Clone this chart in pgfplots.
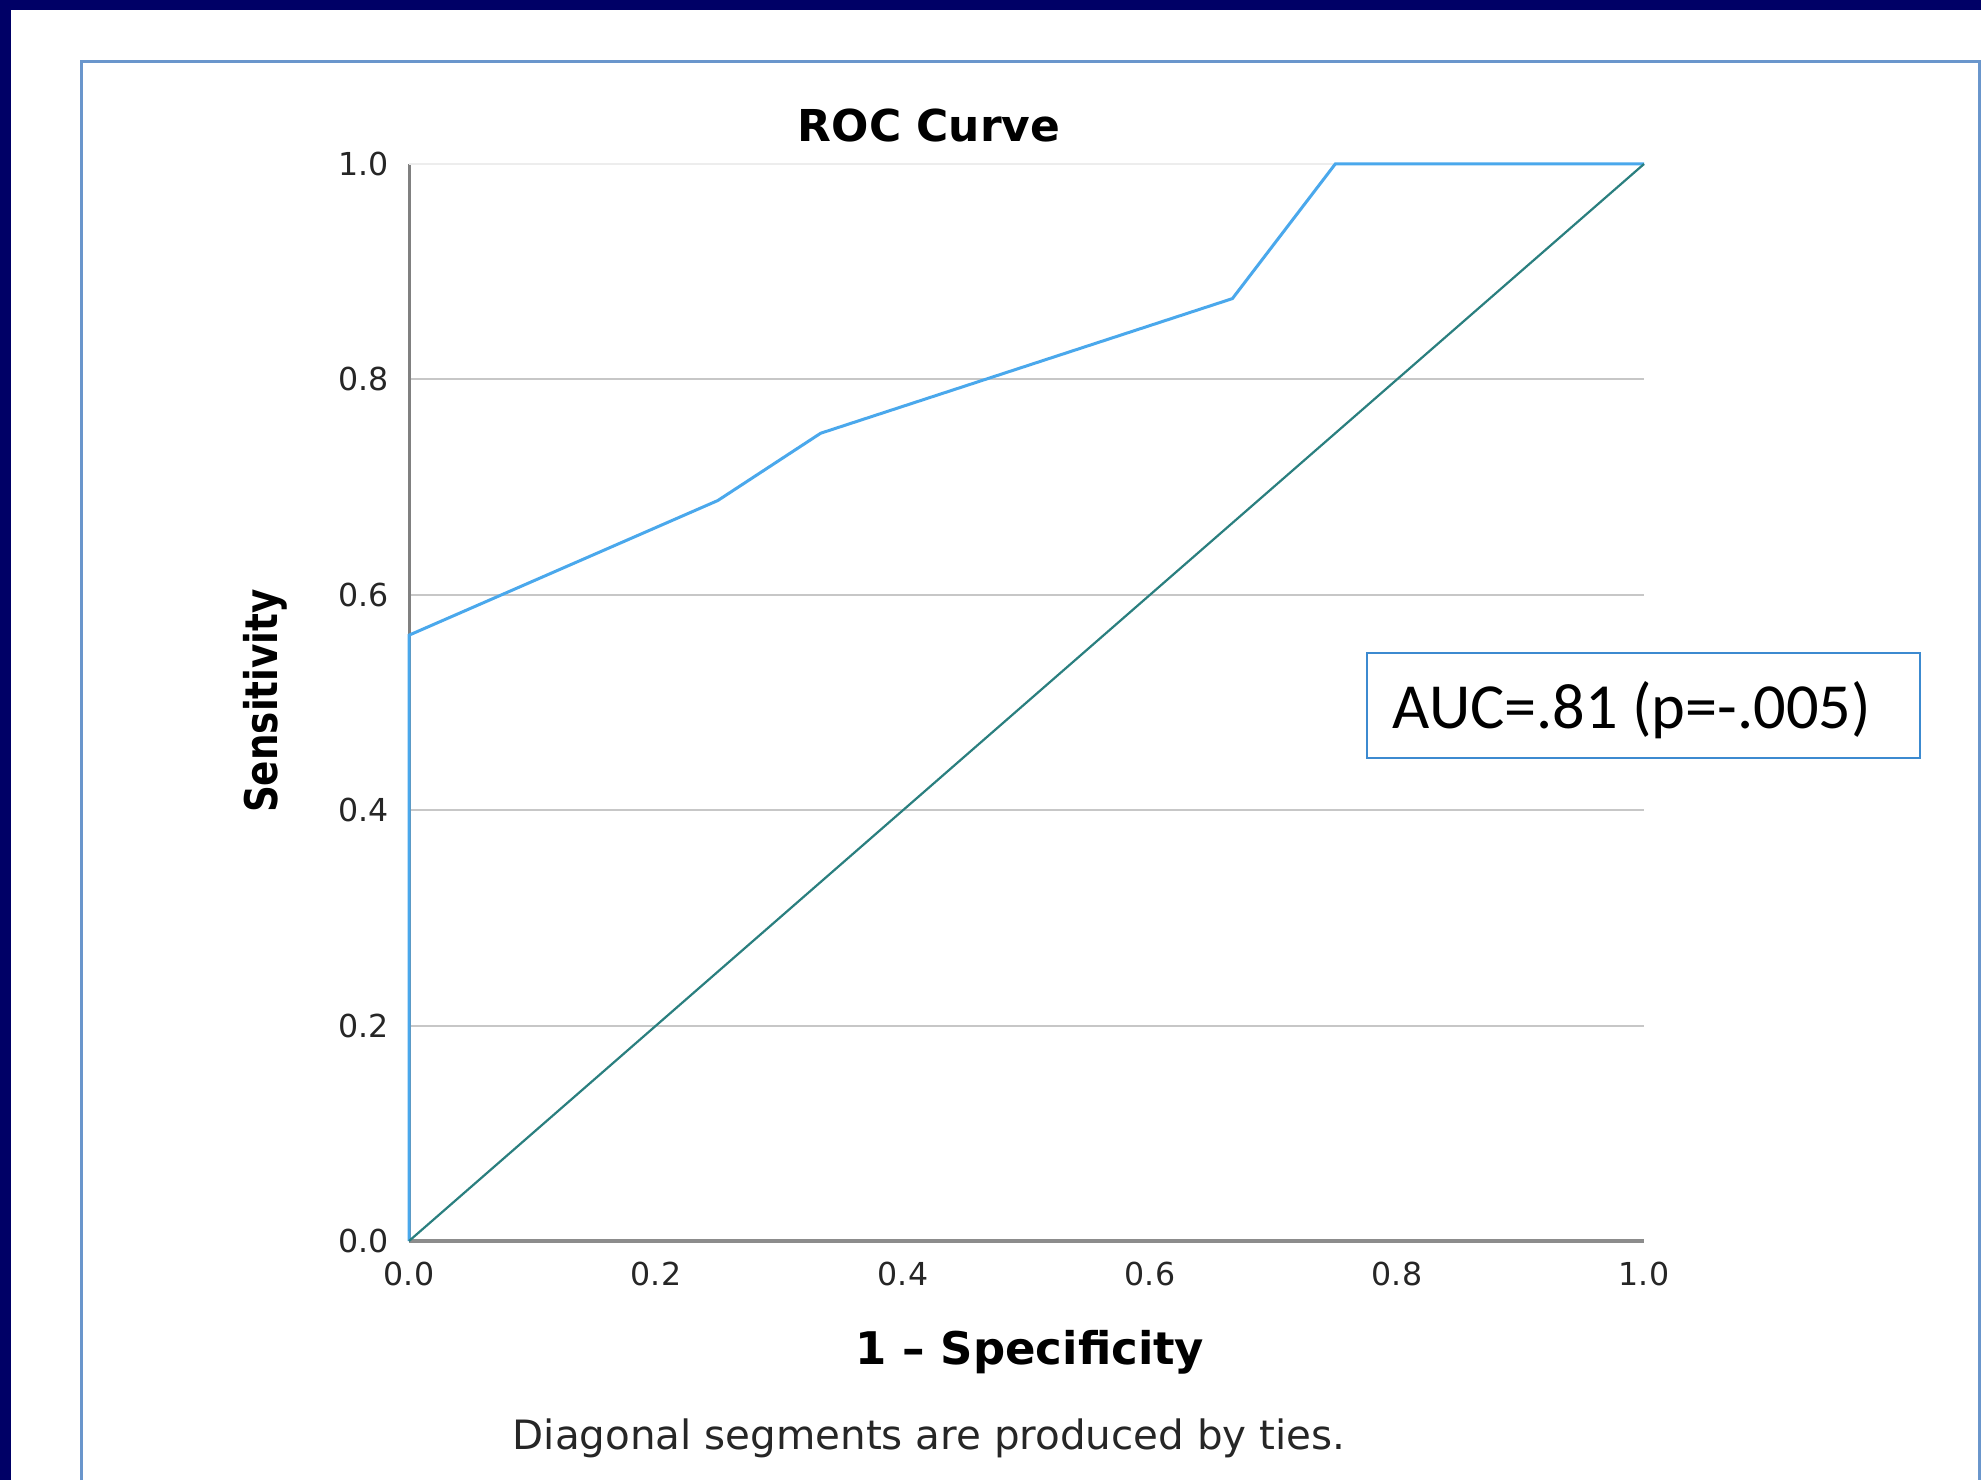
\documentclass[border=0pt]{standalone}
\usepackage{pgfplots}
\pgfplotsset{compat=1.18}
\usepackage{fontspec}
\setmainfont{DejaVu Sans}
\newfontfamily\calfont{Carlito}
\definecolor{navybg}{HTML}{000066}
\definecolor{framecol}{HTML}{6A96CC}
\definecolor{roccol}{HTML}{4AA8EC}
\definecolor{diagcol}{HTML}{2A7F7F}
\definecolor{boxcol}{HTML}{3C8AD0}
\begin{document}
\begin{tikzpicture}
\useasboundingbox (0,0) rectangle (198.1mm,148mm);
\fill[navybg] (0,0) rectangle (198.1mm,148mm);
\fill[white] (1.1mm,0) rectangle (198.1mm,147mm);
\draw[framecol, line width=0.3mm] (8.1mm,0) -- (8.1mm,141.8mm) -- (197.95mm,141.8mm) -- (197.95mm,0);
\begin{axis}[
  at={(40.9mm,23.9mm)}, anchor=south west,
  scale only axis, width=123.5mm, height=107.7mm,
  xmin=0, xmax=1, ymin=0, ymax=1,
  axis x line*=bottom, axis y line*=left,
  x axis line style={-, draw=black!45, line width=0.4mm},
  y axis line style={-, draw=black!50, line width=0.3mm},
  xtick={0,0.2,0.4,0.6,0.8,1.0}, ytick={0,0.2,0.4,0.6,0.8},
  extra y ticks={1.0},
  extra y tick style={major grid style={black!7, line width=0.25mm}},
  major tick length=0pt,
  ymajorgrids, major grid style={black!22, line width=0.2mm},
  /pgf/number format/assume math mode=true,
  /pgf/number format/fixed, /pgf/number format/fixed zerofill, /pgf/number format/precision=1,
  tick label style={font=\fontsize{9}{10}\selectfont, text=black!85},
  xticklabel style={yshift=-0.9mm},
  yticklabel style={xshift=-0.8mm},
  clip=false,
]
\addplot[roccol, line width=0.3mm] coordinates {(0,0) (0,0.5625) (0.25,0.6875) (0.3333,0.75) (0.6667,0.875) (0.75,1) (1,1)};
\addplot[diagcol, line width=0.22mm] coordinates {(0,0) (1,1)};
\end{axis}
\node[font=\bfseries\fontsize{12.5}{14}\selectfont] at (92.9mm,135.4mm) {ROC Curve};
\node[font=\bfseries\fontsize{12.8}{15}\selectfont] at (103.0mm,12.8mm) {1 – Specificity};
\node[font=\fontsize{11.5}{13}\selectfont, text=black!85] at (92.9mm,4.2mm) {Diagonal segments are produced by ties.};
\node[font=\bfseries\fontsize{12.8}{15}\selectfont, rotate=90, xscale=0.83] at (26.5mm,77.9mm) {Sensitivity};
\draw[boxcol, line width=0.2mm, fill=white] (136.7mm,72.2mm) rectangle (192.0mm,82.7mm);
\node[font=\calfont\fontsize{18.3}{20}\selectfont, anchor=west, inner sep=0pt] at (139.2mm,77.0mm) {AUC=.81 (p=-.005)};
\end{tikzpicture}
\end{document}
